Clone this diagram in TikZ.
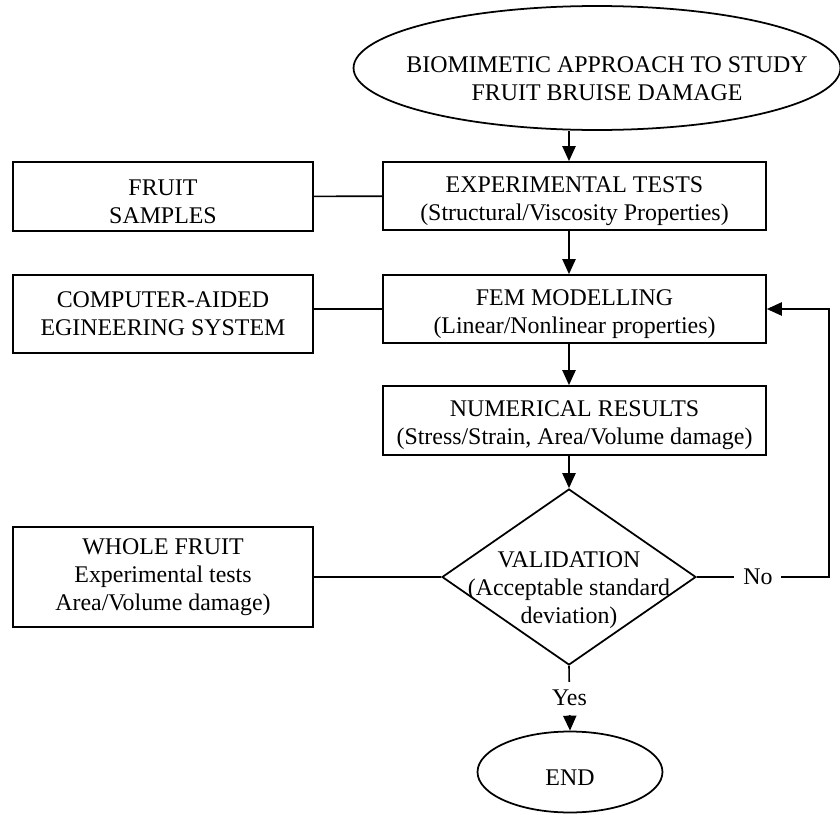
\documentclass[tikz,border=0pt]{standalone}
\usepackage{fontspec}
\setmainfont{Liberation Serif}
\usetikzlibrary{shapes.geometric, arrows.meta}

\tikzset{
  block/.style={draw, rectangle, line width=1pt, align=center, inner sep=0pt,
    text height=30.5pt, minimum width=7.66cm, minimum height=1.36cm},
  sidebox/.style={draw, rectangle, line width=1pt, align=center, inner sep=0pt,
    minimum width=6cm},
  arr/.style={-{Triangle[length=8.5pt,width=7.5pt]}},
}

\begin{document}
\begin{tikzpicture}[x=0.02cm, y=-0.02cm, line width=0.9pt,
  font=\fontsize{13.6pt}{15.9pt}\selectfont]

%% Fake frame to have the same margins
\useasboundingbox (0,0) rectangle (840,815);

%% Start
\node[draw, ellipse, line width=1pt, minimum width=9.74cm, minimum height=2.48cm, inner sep=0pt] (start) at (597,68) {};
\node[align=center] (starttext) at (607,79) {BIOMIMETIC APPROACH TO STUDY\\FRUIT BRUISE DAMAGE};

%% Main column
\node[block] (exptest) at (574.5,196) {EXPERIMENTAL TESTS\\(Structural/Viscosity Properties)};
\node[block] (fem) at (574.5,309) {FEM MODELLING\\(Linear/Nonlinear properties)};
\node[block, minimum height=1.38cm] (numres) at (574.5,420.5) {NUMERICAL RESULTS\\(Stress/Strain, Area/Volume damage)};

\node[draw, diamond, line width=1pt, minimum width=5.08cm, minimum height=3.52cm, inner sep=0pt] (val) at (569,577) {};
\node[align=center] (valtext) at (569,590) {VALIDATION\\(Acceptable standard\\deviation)};

\node[draw, ellipse, line width=1pt, minimum width=3.7cm, minimum height=1.62cm, inner sep=0pt, text height=15pt] (finish) at (570,772) {END};

%% Side boxes
\node[sidebox, minimum height=1.38cm, text height=30.5pt] (fruit) at (163,196.5) {FRUIT\\SAMPLES};
\node[sidebox, minimum height=1.56cm] (cae) at (163,314) {COMPUTER-AIDED\\EGINEERING SYSTEM};
\node[sidebox, minimum height=2cm] (whole) at (163,577) {WHOLE FRUIT\\Experimental tests\\Area/Volume damage)};

%% Flow
\draw[arr] (start.south -| val.north) -- (exptest.north -| val.north);
\draw[arr] (exptest.south -| val.north) -- (fem.north -| val.north);
\draw[arr] (fem.south -| val.north) -- (numres.north -| val.north);
\draw[arr] (numres.south -| val.north) -- (val.north);
\draw[arr] (val.south) -- node[fill=white, inner xsep=0pt, inner ysep=4.8pt] (yes) {Yes} (finish.north);

%% Feedback loop
\coordinate (loop) at (829,577);
\draw[arr] (val.east) -- node[pos=0.462, fill=white, inner xsep=5.1pt] (no) {No} (loop) |- (fem.east);

%% Inputs
\draw (fruit) -- (exptest);
\draw (cae.east |- fem.west) -- (fem.west);
\draw (whole) -- (val);

\end{tikzpicture}
\end{document}
